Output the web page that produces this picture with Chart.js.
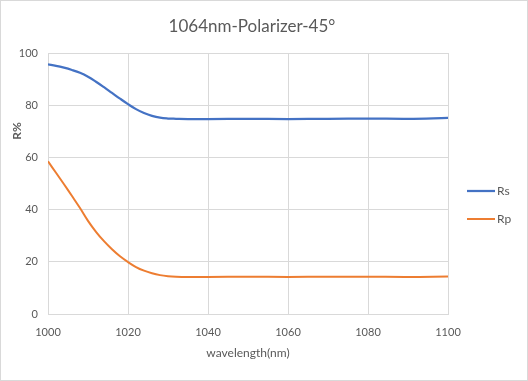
<!DOCTYPE html>
<html>
<head>
<meta charset="utf-8">
<script src="https://cdn.jsdelivr.net/npm/chart.js@4.4.0/dist/chart.umd.min.js"></script>
<style>
  html, body { margin: 0; padding: 0; background: #fff; }
  #wrap { width: 528px; height: 381px; position: relative; }
</style>
</head>
<body>
<div id="wrap"><canvas id="chart" width="528" height="381"></canvas></div>
<script>
const chartTitle = '1064nm-Polarizer-45°';
const xTitle = 'wavelength(nm)';
const yTitle = 'R%';

const wavelength = [1000, 1002, 1004, 1006, 1008, 1010, 1012, 1014, 1016, 1018, 1020, 1022, 1024, 1026, 1028, 1030, 1032, 1035, 1040, 1050, 1060, 1070, 1080, 1090, 1100];
const rs = [95.6, 95.1, 94.4, 93.5, 92.4, 90.9, 89.0, 86.9, 84.7, 82.5, 80.4, 78.5, 77.0, 75.9, 75.2, 74.9, 74.8, 74.7, 74.7, 74.8, 74.7, 74.8, 74.9, 74.8, 75.1];
const rp = [58.5, 54.1, 49.7, 45.2, 40.6, 35.7, 31.5, 27.9, 24.8, 22.1, 19.9, 18.0, 16.6, 15.6, 14.9, 14.5, 14.3, 14.2, 14.2, 14.3, 14.2, 14.3, 14.3, 14.2, 14.4];

const xTicks = [1000, 1020, 1040, 1060, 1080, 1100];
const yTicks = [0, 20, 40, 60, 80, 100];

const textColor = '#595959';
const gridColor = '#d9d9d9';
const fontFamily = 'Lato, "Open Sans", sans-serif';

function toPoints(xs, ys){
	return xs.map((x, i) => ({ x, y: ys[i] }));
}

// title, y axis title, legend and outer frame drawn on the canvas
const decor = {
	id: 'decor',
	beforeDraw(chart){
		const ctx = chart.ctx;
		ctx.save();
		ctx.fillStyle = '#fff';
		ctx.fillRect(0, 0, chart.width, chart.height);
		ctx.restore();
	},
	afterDraw(chart){
		const ctx = chart.ctx;
		ctx.save();
		ctx.strokeStyle = gridColor;
		ctx.lineWidth = 1;
		ctx.strokeRect(0.5, 0.5, chart.width - 1, chart.height - 1);

		ctx.fillStyle = textColor;
		ctx.textAlign = 'center';
		ctx.textBaseline = 'middle';
		ctx.font = '17px ' + fontFamily;
		ctx.fillText(chartTitle, 252, 27);

		ctx.save();
		ctx.translate(17, 131);
		ctx.rotate(-Math.PI / 2);
		ctx.font = 'bold 12px ' + fontFamily;
		ctx.fillText(yTitle, 0, 0);
		ctx.restore();

		ctx.font = '12px ' + fontFamily;
		ctx.textAlign = 'left';
		chart.data.datasets.forEach((ds, i) => {
			const y = 191 + i * 28;
			ctx.strokeStyle = ds.borderColor;
			ctx.lineWidth = ds.borderWidth;
			ctx.beginPath();
			ctx.moveTo(467, y);
			ctx.lineTo(495, y);
			ctx.stroke();
			ctx.fillStyle = textColor;
			ctx.fillText(ds.label, 497, y);
		});
		ctx.restore();
	}
};

new Chart(document.getElementById('chart'), {
	type: 'line',
	data: {
		datasets: [
			{ label: 'Rs', data: toPoints(wavelength, rs), borderColor: '#4472c4', backgroundColor: '#4472c4', borderWidth: 2.25, pointRadius: 0, tension: 0.4 },
			{ label: 'Rp', data: toPoints(wavelength, rp), borderColor: '#ed7d31', backgroundColor: '#ed7d31', borderWidth: 2, pointRadius: 0, tension: 0.4 }
		]
	},
	options: {
		responsive: false,
		animation: false,
		layout: { padding: { left: 0, top: 53, right: 80, bottom: 0 } },
		plugins: { legend: { display: false }, title: { display: false }, tooltip: { enabled: false } },
		scales: {
			x: {
				type: 'linear',
				min: 1000,
				max: 1100,
				afterBuildTicks: (scale) => { scale.ticks = xTicks.map(v => ({ value: v })); },
				grid: { color: gridColor, drawTicks: false, tickLength: 0 },
				border: { color: gridColor },
				ticks: { color: textColor, padding: 12, font: { family: fontFamily, size: 11 }, maxRotation: 0, callback: (v) => String(v) },
				title: { display: true, text: xTitle, color: textColor, font: { family: fontFamily, size: 12 }, padding: { top: 4, bottom: 21 } },
				afterFit: (scale) => { scale.height = 67; }
			},
			y: {
				min: 0,
				max: 100,
				afterBuildTicks: (scale) => { scale.ticks = yTicks.map(v => ({ value: v })); },
				grid: { color: gridColor, drawTicks: false, tickLength: 0 },
				border: { color: gridColor },
				ticks: { color: textColor, padding: 10, font: { family: fontFamily, size: 11 }, callback: (v) => String(v) },
				afterFit: (scale) => { scale.width = 48; }
			}
		}
	},
	plugins: [decor]
});
</script>
</body>
</html>
